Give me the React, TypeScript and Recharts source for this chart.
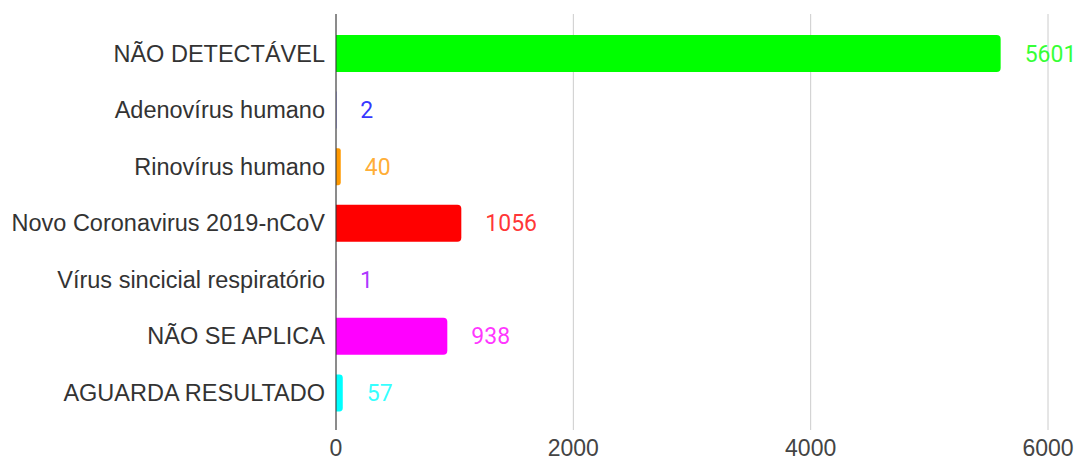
import React from "react";
import {
  BarChart,
  Bar,
  Cell,
  XAxis,
  YAxis,
  CartesianGrid,
  LabelList,
} from "recharts";

// Resultados por categoria
const CATEGORIES = [
  "NÃO DETECTÁVEL",
  "Adenovírus humano",
  "Rinovírus humano",
  "Novo Coronavirus 2019-nCoV",
  "Vírus sincicial respiratório",
  "NÃO SE APLICA",
  "AGUARDA RESULTADO",
];
const VALUES = [5601, 2, 40, 1056, 1, 938, 57];
const COLORS = [
  "#00ff00", "#0000ff", "#ff9900", "#ff0000",
  "#9900ff", "#ff00ff", "#00ffff",
];
const X_TICKS = [0, 2000, 4000, 6000];

const FONT = "Liberation Sans, Arial, sans-serif";

const data = CATEGORIES.map((name, i) => ({
  name,
  value: VALUES[i],
  color: COLORS[i],
}));

function ValueLabel(props: any) {
  const { x, y, width, height, value, index } = props;
  return (
    <text
      x={x + width + 24}
      y={y + height / 2}
      dy="0.35em"
      fill={COLORS[index]}
      fillOpacity={0.8}
      fontSize={23}
      fontFamily="Roboto, sans-serif"
      textAnchor="start"
    >
      {value}
    </text>
  );
}

export default function App() {
  return (
    <div style={{ position: "absolute", left: 0, top: 0, background: "#fff" }}>
      <BarChart
        width={1077}
        height={461}
        data={data}
        layout="vertical"
        margin={{ top: 14, right: 29, bottom: 1, left: 0 }}
      >
        <CartesianGrid horizontal={false} stroke="#cccccc" />
        <XAxis
          type="number"
          domain={[0, 6000]}
          ticks={X_TICKS}
          height={30}
          axisLine={false}
          tickLine={false}
          tickMargin={4}
          tick={{ fontSize: 23, fill: "#444", fontFamily: FONT }}
        />
        <YAxis
          type="category"
          dataKey="name"
          width={336}
          padding={{ top: 11, bottom: 9 }}
          axisLine={{ stroke: "#333" }}
          tickLine={false}
          tickMargin={5}
          tick={{ fontSize: 23.5, fill: "#333", fontFamily: FONT }}
        />
        <Bar dataKey="value" barSize={37} radius={[0, 4, 4, 0]} isAnimationActive={false}>
          {data.map((d, i) => (
            <Cell key={`cell-${i}`} fill={d.color} />
          ))}
          <LabelList dataKey="value" content={<ValueLabel />} />
        </Bar>
      </BarChart>
    </div>
  );
}
